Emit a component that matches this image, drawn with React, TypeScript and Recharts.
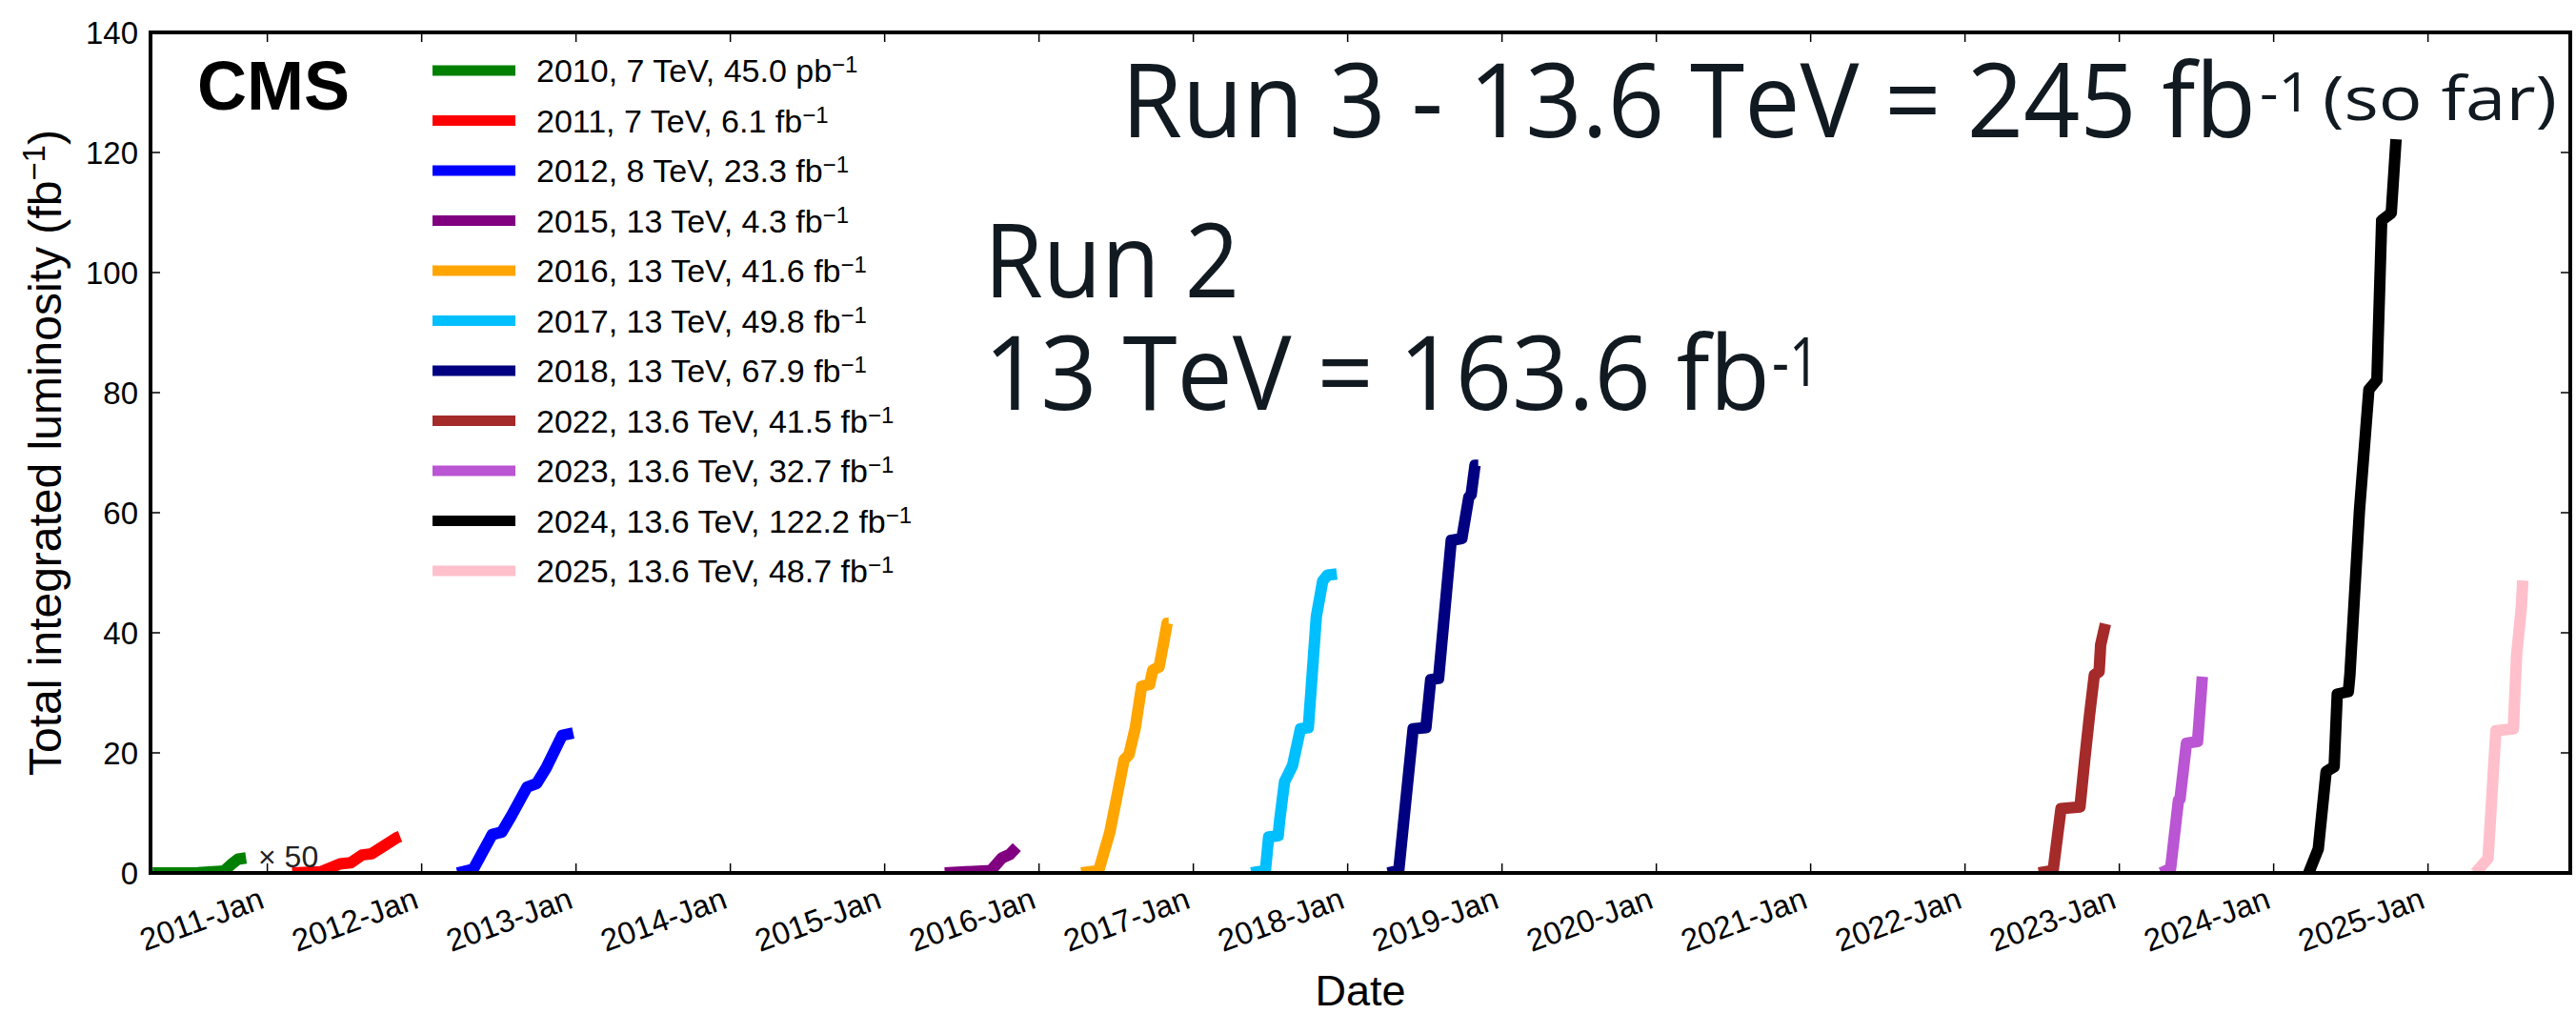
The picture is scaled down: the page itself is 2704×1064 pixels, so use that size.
import React from "react";
import { LineChart, Line, XAxis, YAxis } from "recharts";

const W = 2704;
const H = 1064;

// x = decimal year, v = integrated luminosity (fb^-1); 2010 already scaled x50
const lumi2010 = [
  { t: 2010.257, v: 0 },
  { t: 2010.55, v: 0.05 },
  { t: 2010.718, v: 0.3 },
  { t: 2010.77, v: 1.5 },
  { t: 2010.81, v: 2.3 },
  { t: 2010.862, v: 2.5 },
];
const lumi2011 = [
  { t: 2011.161, v: 0 },
  { t: 2011.346, v: 0.2 },
  { t: 2011.47, v: 1.5 },
  { t: 2011.541, v: 1.7 },
  { t: 2011.614, v: 3.0 },
  { t: 2011.675, v: 3.2 },
  { t: 2011.84, v: 5.9 },
  { t: 2011.86, v: 6.1 },
];
const lumi2012 = [
  { t: 2012.231, v: 0 },
  { t: 2012.334, v: 0.6 },
  { t: 2012.457, v: 6.4 },
  { t: 2012.519, v: 6.8 },
  { t: 2012.581, v: 9.5 },
  { t: 2012.683, v: 14.3 },
  { t: 2012.745, v: 14.9 },
  { t: 2012.807, v: 17.5 },
  { t: 2012.91, v: 22.9 },
  { t: 2012.982, v: 23.3 },
];
const lumi2015 = [
  { t: 2015.389, v: 0 },
  { t: 2015.688, v: 0.4 },
  { t: 2015.76, v: 2.5 },
  { t: 2015.811, v: 3.1 },
  { t: 2015.856, v: 4.3 },
];
const lumi2016 = [
  { t: 2016.274, v: 0 },
  { t: 2016.387, v: 0.4 },
  { t: 2016.459, v: 6.8 },
  { t: 2016.5, v: 12.1 },
  { t: 2016.552, v: 18.9 },
  { t: 2016.583, v: 19.7 },
  { t: 2016.624, v: 24.2 },
  { t: 2016.665, v: 31.1 },
  { t: 2016.717, v: 31.4 },
  { t: 2016.737, v: 33.8 },
  { t: 2016.778, v: 34.3 },
  { t: 2016.809, v: 38.5 },
  { t: 2016.83, v: 41.6 },
  { t: 2016.84, v: 41.6 },
];
const lumi2017 = [
  { t: 2017.375, v: 0 },
  { t: 2017.467, v: 0.4 },
  { t: 2017.488, v: 6.0 },
  { t: 2017.55, v: 6.2 },
  { t: 2017.56, v: 8.9 },
  { t: 2017.591, v: 15.2 },
  { t: 2017.643, v: 17.9 },
  { t: 2017.694, v: 24.0 },
  { t: 2017.745, v: 24.2 },
  { t: 2017.797, v: 42.7 },
  { t: 2017.838, v: 48.6 },
  { t: 2017.869, v: 49.6 },
  { t: 2017.93, v: 49.8 },
];
const lumi2018 = [
  { t: 2018.26, v: 0 },
  { t: 2018.331, v: 0.4 },
  { t: 2018.424, v: 24.0 },
  { t: 2018.507, v: 24.2 },
  { t: 2018.538, v: 32.2 },
  { t: 2018.589, v: 32.4 },
  { t: 2018.671, v: 55.4 },
  { t: 2018.74, v: 55.7 },
  { t: 2018.785, v: 62.6 },
  { t: 2018.8, v: 63.0 },
  { t: 2018.825, v: 67.9 },
  { t: 2018.846, v: 67.9 },
];
const lumi2022 = [
  { t: 2022.478, v: 0 },
  { t: 2022.571, v: 0.4 },
  { t: 2022.622, v: 10.7 },
  { t: 2022.745, v: 11.0 },
  { t: 2022.776, v: 18.9 },
  { t: 2022.807, v: 26.3 },
  { t: 2022.838, v: 33.0 },
  { t: 2022.869, v: 33.5 },
  { t: 2022.879, v: 38.0 },
  { t: 2022.91, v: 41.5 },
];
const lumi2023 = [
  { t: 2023.27, v: 0 },
  { t: 2023.332, v: 0.7 },
  { t: 2023.383, v: 12.1 },
  { t: 2023.393, v: 12.3 },
  { t: 2023.435, v: 21.6 },
  { t: 2023.507, v: 21.9 },
  { t: 2023.538, v: 32.7 },
];
const lumi2024 = [
  { t: 2024.227, v: 0 },
  { t: 2024.289, v: 4.0 },
  { t: 2024.34, v: 16.9 },
  { t: 2024.392, v: 17.7 },
  { t: 2024.412, v: 29.8 },
  { t: 2024.484, v: 30.2 },
  { t: 2024.494, v: 33.0 },
  { t: 2024.556, v: 60.4 },
  { t: 2024.617, v: 80.5 },
  { t: 2024.669, v: 82.1 },
  { t: 2024.7, v: 108.7 },
  { t: 2024.762, v: 109.9 },
  { t: 2024.793, v: 122.2 },
];
const lumi2025 = [
  { t: 2025.307, v: 0 },
  { t: 2025.389, v: 2.4 },
  { t: 2025.44, v: 23.7 },
  { t: 2025.553, v: 24.0 },
  { t: 2025.574, v: 36.2 },
  { t: 2025.605, v: 44.3 },
  { t: 2025.614, v: 48.7 },
];

const runs = [
  lumi2010, lumi2011, lumi2012, lumi2015, lumi2016, lumi2017,
  lumi2018, lumi2022, lumi2023, lumi2024, lumi2025,
];
const seriesColors = [
  "#008000", "#ff0000", "#0000ff", "#800080", "#ffa500", "#00bfff",
  "#000080", "#a52a2a", "#ba55d3", "#000000", "#ffc0cb",
];
const legendLabels = [
  "2010, 7 TeV, 45.0 pb",
  "2011, 7 TeV, 6.1 fb",
  "2012, 8 TeV, 23.3 fb",
  "2015, 13 TeV, 4.3 fb",
  "2016, 13 TeV, 41.6 fb",
  "2017, 13 TeV, 49.8 fb",
  "2018, 13 TeV, 67.9 fb",
  "2022, 13.6 TeV, 41.5 fb",
  "2023, 13.6 TeV, 32.7 fb",
  "2024, 13.6 TeV, 122.2 fb",
  "2025, 13.6 TeV, 48.7 fb",
];

const yearTicks = [
  2011, 2012, 2013, 2014, 2015, 2016, 2017, 2018, 2019, 2020, 2021, 2022,
  2023, 2024, 2025,
];
const lumiTicks = [0, 20, 40, 60, 80, 100, 120, 140];
const xDomain = [2010.243, 2025.922];

const SANS = "'Liberation Sans', Arial, sans-serif";
const RUN_FONT = "'Open Sans', 'Noto Sans', sans-serif";
const INK = "#121a21";

const BottomTick = (props: any) => {
  const { x, y, payload } = props;
  const ax = x - 1.6;
  const ay = y + 36;
  return (
    <g>
      <line x1={x} x2={x} y1={y} y2={y - 10} stroke="#000" strokeWidth={1.5} />
      <text
        x={ax}
        y={ay}
        transform={`rotate(-20 ${ax} ${ay})`}
        textAnchor="end"
        fontSize={33}
        fontFamily={SANS}
        fill="#000"
      >
        {`${payload.value}-Jan`}
      </text>
    </g>
  );
};

const TopTick = (props: any) => {
  const { x, y } = props;
  return <line x1={x} x2={x} y1={y} y2={y + 10} stroke="#000" strokeWidth={1.5} />;
};

const LeftTick = (props: any) => {
  const { x, y, payload } = props;
  return (
    <g>
      <line x1={x} x2={x + 10} y1={y} y2={y} stroke="#000" strokeWidth={1.5} />
      <text
        x={x - 13}
        y={y}
        dy="0.36em"
        textAnchor="end"
        fontSize={33}
        fontFamily={SANS}
        fill="#000"
      >
        {payload.value}
      </text>
    </g>
  );
};

const RightTick = (props: any) => {
  const { x, y } = props;
  return <line x1={x} x2={x - 10} y1={y} y2={y} stroke="#000" strokeWidth={1.5} />;
};

const spine = { stroke: "#000", strokeWidth: 4, strokeLinecap: "square" as const };

export default function App() {
  return (
    <div style={{ position: "absolute", left: 0, top: 0, width: W, height: H, background: "#fff" }}>
      <LineChart
        width={W}
        height={H}
        margin={{ top: 33, right: 5, bottom: 147, left: 157 }}
      >
        <XAxis
          dataKey="t"
          type="number"
          domain={xDomain}
          ticks={yearTicks}
          interval={0}
          allowDataOverflow
          height={1}
          tickSize={0}
          tickMargin={0}
          tickLine={false}
          axisLine={spine}
          tick={<BottomTick />}
        />
        <XAxis
          xAxisId="top"
          orientation="top"
          dataKey="t"
          type="number"
          domain={xDomain}
          ticks={yearTicks}
          interval={0}
          allowDataOverflow
          height={1}
          tickSize={0}
          tickMargin={0}
          tickLine={false}
          axisLine={spine}
          tick={<TopTick />}
        />
        <YAxis
          type="number"
          domain={[0, 140]}
          ticks={lumiTicks}
          interval={0}
          allowDataOverflow
          width={1}
          tickSize={0}
          tickMargin={0}
          tickLine={false}
          axisLine={spine}
          tick={<LeftTick />}
        />
        <YAxis
          yAxisId="right"
          orientation="right"
          type="number"
          domain={[0, 140]}
          ticks={lumiTicks}
          interval={0}
          allowDataOverflow
          width={1}
          tickSize={0}
          tickMargin={0}
          tickLine={false}
          axisLine={spine}
          tick={<RightTick />}
        />
        {runs.map((d, i) => (
          <Line
            key={legendLabels[i]}
            data={d}
            dataKey="v"
            name={legendLabels[i]}
            type="linear"
            stroke={seriesColors[i]}
            strokeWidth={12}
            strokeLinejoin="round"
            dot={false}
            activeDot={false}
            isAnimationActive={false}
          />
        ))}
      </LineChart>

      <svg
        width={W}
        height={H}
        style={{ position: "absolute", left: 0, top: 0, pointerEvents: "none" }}
      >
        <text x={207} y={115} fontSize={72} fontWeight="bold" fontFamily={SANS} fill="#000">
          CMS
        </text>

        {legendLabels.map((lab, i) => {
          const cy = 74 + i * 52.5;
          return (
            <g key={lab}>
              <line x1={454} x2={541} y1={cy} y2={cy} stroke={seriesColors[i]} strokeWidth={11} />
              <text x={563} y={cy + 12} fontSize={34} fontFamily={SANS} fill="#000">
                {lab}
                <tspan fontSize={24} dy={-10}>−1</tspan>
              </text>
            </g>
          );
        })}

        <text x={271} y={910} fontSize={32} fontFamily={SANS} fill="#222">
          × 50
        </text>

        {/* axis titles */}
        <text
          transform="translate(64 475) rotate(-90)"
          textAnchor="middle"
          fontSize={48}
          fontFamily={SANS}
          fill="#000"
        >
          Total integrated luminosity (fb
          <tspan fontSize={33} dy={-17}>−1</tspan>
          <tspan dy={17}>)</tspan>
        </text>
        <text x={1428} y={1055} textAnchor="middle" fontSize={45} fontFamily={SANS} fill="#000">
          Date
        </text>

        {/* run annotations */}
        <text fontFamily={RUN_FONT} fill={INK}>
          <tspan x={1177} y={144} fontSize={108} textLength={1191} lengthAdjust="spacingAndGlyphs">
            Run 3 - 13.6 TeV = 245 fb
          </tspan>
          <tspan x={2372} y={117} fontSize={56} textLength={54} lengthAdjust="spacingAndGlyphs">
            -1
          </tspan>
          <tspan x={2438} y={126} fontSize={64} textLength={246} lengthAdjust="spacingAndGlyphs">
            (so far)
          </tspan>
        </text>
        <text fontFamily={RUN_FONT} fill={INK}>
          <tspan x={1033} y={312} fontSize={108} textLength={268} lengthAdjust="spacingAndGlyphs">
            Run 2
          </tspan>
          <tspan x={1033} y={430} fontSize={108} textLength={825} lengthAdjust="spacingAndGlyphs">
            13 TeV = 163.6 fb
          </tspan>
          <tspan x={1860} y={405} fontSize={71} textLength={50} lengthAdjust="spacingAndGlyphs">
            -1
          </tspan>
        </text>
      </svg>
    </div>
  );
}
